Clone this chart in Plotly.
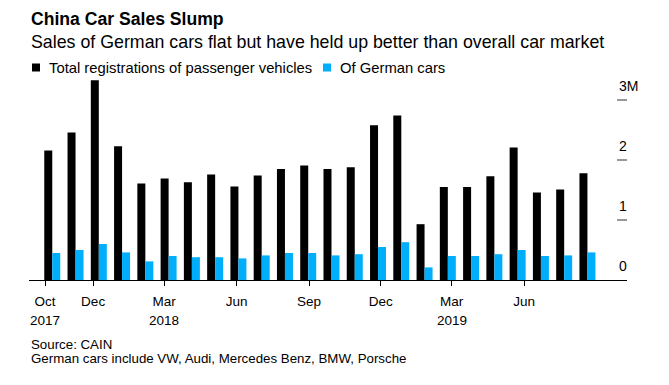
import plotly.graph_objects as go
import pandas as pd

# ---- data ----
months = ["2017-10", "2017-11", "2017-12", "2018-01", "2018-02", "2018-03",
          "2018-04", "2018-05", "2018-06", "2018-07", "2018-08", "2018-09",
          "2018-10", "2018-11", "2018-12", "2019-01", "2019-02", "2019-03",
          "2019-04", "2019-05", "2019-06", "2019-07", "2019-08", "2019-09"]
total_registrations = [2.16, 2.46, 3.33, 2.23, 1.61, 1.69, 1.63, 1.76, 1.56, 1.74, 1.85, 1.91,
                       1.85, 1.88, 2.58, 2.74, 0.93, 1.55, 1.55, 1.73, 2.21, 1.46, 1.51, 1.78]
german_cars = [0.45, 0.50, 0.60, 0.46, 0.31, 0.40, 0.38, 0.38, 0.36, 0.41, 0.45, 0.45,
               0.41, 0.43, 0.55, 0.63, 0.21, 0.40, 0.40, 0.43, 0.50, 0.40, 0.41, 0.46]
tick_dates = ["2017-10-01", "2017-12-01", "2018-03-01", "2018-06-01",
              "2018-09-01", "2018-12-01", "2019-03-01", "2019-06-01"]
tick_labels = ["Oct", "Dec", "Mar", "Jun", "Sep", "Dec", "Mar", "Jun"]
tick_years = ["2017", "", "2018", "", "", "", "2019", ""]
y_ticks = [0, 1, 2, 3]
y_tick_labels = ["0", "1", "2", "3M"]
series_names = ["Total registrations of passenger vehicles", "Of German cars"]
colors = ["#000000", "#00aefc"]

# ---- layout helpers (page pixel geometry; body has an 8px margin) ----
OFF = 8
W, H = 669 - 2 * OFF, 385 - 2 * OFF
L, R, T, B = 29, 627, 76, 280          # plot area in page pixels
FONT = "Liberation Sans, Arial, sans-serif"

def px(x):
    return (x - L) / (R - L)

def py(y):
    return (B - y) / (B - T)

x_idx = list(range(len(months)))
start = pd.Timestamp(months[0] + "-01")
tick_pos = [-0.31 + (pd.Timestamp(d) - start).days / 29.53 for d in tick_dates]

fig = go.Figure()
fig.add_trace(go.Bar(x=x_idx, y=total_registrations, name=series_names[0],
                     marker=dict(color=colors[0], line=dict(width=0)), showlegend=False))
fig.add_trace(go.Bar(x=x_idx, y=german_cars, name=series_names[1],
                     marker=dict(color=colors[1], line=dict(width=0)), showlegend=False))

annotations = []
# title / subtitle
annotations.append(dict(text="<b>China Car Sales Slump</b>", x=px(29), y=py(19), xref="paper", yref="paper",
                        xanchor="left", yanchor="middle", showarrow=False,
                        font=dict(family=FONT, size=17.6, color="#000")))
annotations.append(dict(text="Sales of German cars flat but have held up better than overall car market",
                        x=px(29), y=py(42), xref="paper", yref="paper",
                        xanchor="left", yanchor="middle", showarrow=False,
                        font=dict(family=FONT, size=17.8, color="#000")))
# legend
legend_x = [47, 338]
square_x = [32, 323]
for name, tx in zip(series_names, legend_x):
    annotations.append(dict(text=name, x=px(tx), y=py(68), xref="paper", yref="paper",
                            xanchor="left", yanchor="middle", showarrow=False,
                            font=dict(family=FONT, size=14.8, color="#000")))
shapes = []
for col, sx in zip(colors, square_x):
    shapes.append(dict(type="rect", xref="paper", yref="paper", x0=px(sx), x1=px(sx + 8),
                       y0=py(63.5), y1=py(71.5), fillcolor=col, line=dict(width=0)))
# y labels
for v, lab in zip(y_ticks, y_tick_labels):
    annotations.append(dict(text=lab, x=1, xshift=-10, y=v, yshift=4, xref="paper", yref="y",
                            xanchor="left", yanchor="bottom", showarrow=False,
                            font=dict(family=FONT, size=14, color="#000")))
# year labels under month ticks
for pos, yr in zip(tick_pos, tick_years):
    if yr:
        annotations.append(dict(text=yr, x=pos, y=py(320), xref="x", yref="paper",
                                xanchor="center", yanchor="middle", showarrow=False,
                                font=dict(family=FONT, size=13.5, color="#000")))
# source / note
annotations.append(dict(text="Source: CAIN", x=px(29), y=py(344), xref="paper", yref="paper",
                        xanchor="left", yanchor="middle", showarrow=False,
                        font=dict(family=FONT, size=13.3, color="#000")))
annotations.append(dict(text="German cars include VW, Audi, Mercedes Benz, BMW, Porsche",
                        x=px(29), y=py(358), xref="paper", yref="paper",
                        xanchor="left", yanchor="middle", showarrow=False,
                        font=dict(family=FONT, size=13.3, color="#000")))

fig.update_layout(
    width=W, height=H,
    margin=dict(l=L - OFF, r=W - (R - OFF), t=T - OFF, b=H - (B - OFF), pad=0),
    paper_bgcolor="white", plot_bgcolor="white",
    barmode="group", bargap=0.3125, bargroupgap=0,
    annotations=annotations, shapes=shapes,
    font=dict(family=FONT, color="#000"),
)
fig.update_xaxes(range=[-1.0, 24.7], tickvals=tick_pos, ticktext=tick_labels,
                 showgrid=False, zeroline=False, showline=True, linecolor="#000", linewidth=1,
                 ticks="outside", ticklen=5, tickwidth=1, tickcolor="#000", ticklabelstandoff=4,
                 tickfont=dict(family=FONT, size=13.5, color="#000"), fixedrange=True)
fig.update_yaxes(range=[0, 3.4], side="right", tickvals=y_ticks[1:], showticklabels=False,
                 ticks="inside", ticklen=10, tickwidth=2, tickcolor="#999",
                 showgrid=False, zeroline=False, showline=False, fixedrange=True)

fig.write_html("out.html", config={"displayModeBar": False})
